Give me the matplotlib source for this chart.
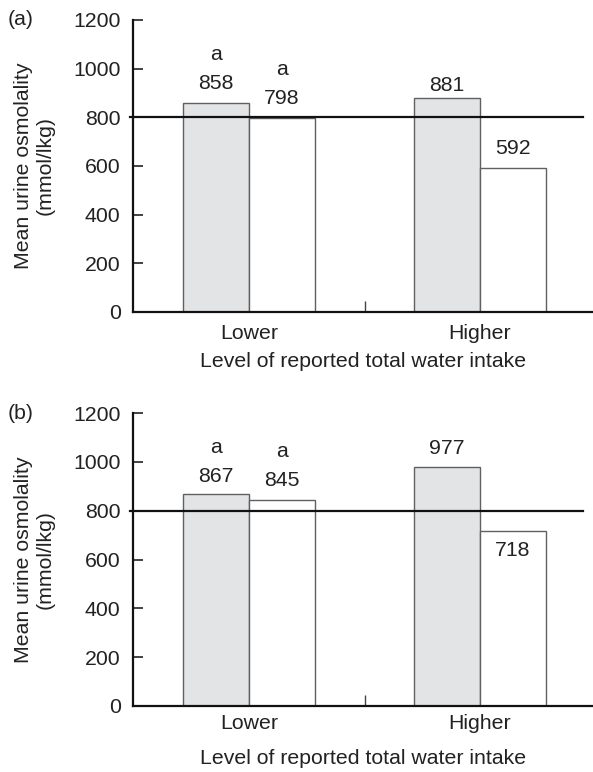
import matplotlib
matplotlib.use('Agg')
import matplotlib.pyplot as plt
import numpy as np

plt.rcParams['font.family'] = ['Liberation Sans', 'DejaVu Sans']

categories = ['Lower', 'Higher']
panel_names = ['(a)', '(b)']
# grey bar / white bar per category
grey_a = [858, 881]
white_a = [798, 592]
grey_b = [867, 977]
white_b = [845, 718]
# significance letters over bars
letters_grey_a = ['a', '']
letters_white_a = ['a', '']
letters_grey_b = ['a', '']
letters_white_b = ['a', '']
ref_level = 800
y_ticks = [0, 200, 400, 600, 800, 1000, 1200]

# label offsets (points) from the bar top
off_grey_a = [14, 9]
off_white_a = [14, 14]
off_grey_b = [13, 14]
off_white_b = [14, -14]

fig = plt.figure(figsize=(5.93, 7.72), dpi=100)
ax_a = fig.add_axes([0.2243, 0.5959, 0.7757, 0.3782])
ax_b = fig.add_axes([0.2243, 0.0855, 0.7757, 0.3795])

# ax, grey, white, letters, letters, offsets, offsets, tick pad, xlabel pad
panels = [
    (ax_a, grey_a, white_a, letters_grey_a, letters_white_a, off_grey_a, off_white_a, 8.5, 7),
    (ax_b, grey_b, white_b, letters_grey_b, letters_white_b, off_grey_b, off_white_b, 6, 11),
]

x = np.arange(len(categories))
w = 0.286
fs = 15.3

for i, (ax, g, wh, lg, lw_, og, ow, tpad, xlpad) in enumerate(panels):
    bg = ax.bar(x - w / 2, g, w, color='#e3e4e6', edgecolor='#606060', linewidth=1.0, zorder=2)
    bw = ax.bar(x + w / 2, wh, w, color='white', edgecolor='#606060', linewidth=1.0, zorder=2)
    for bars, vals, lets, offs in [(bg, g, lg, og), (bw, wh, lw_, ow)]:
        for b, v, l, o in zip(bars, vals, lets, offs):
            cx = b.get_x() + b.get_width() / 2
            ax.annotate(str(v), (cx, v), xytext=(0, o), textcoords='offset points',
                        ha='center', va='center', fontsize=fs, color='#222222')
            if l:
                ax.annotate(l, (cx, v), xytext=(0, o + 21), textcoords='offset points',
                            ha='center', va='center', fontsize=fs, color='#222222')
    ax.axhline(ref_level, xmin=-0.007, xmax=0.979, color='#111111', linewidth=1.6,
               clip_on=False, zorder=3)
    ax.set_xlim(-0.502, 1.489)
    ax.set_ylim(0, 1200)
    ax.set_yticks(y_ticks)
    ax.tick_params(axis='y', direction='in', length=7, width=1.2, pad=9,
                   labelsize=fs, colors='#222222')
    ax.set_xticks(x, categories)
    ax.tick_params(axis='x', length=0, pad=tpad, labelsize=fs, colors='#222222')
    ax.set_xticks([0.5], minor=True)
    ax.tick_params(axis='x', which='minor', direction='in', length=8, width=1.0, color='#444444')
    for s in ['top', 'right']:
        ax.spines[s].set_visible(False)
    for s in ['left', 'bottom']:
        ax.spines[s].set_linewidth(1.6)
        ax.spines[s].set_color('#111111')
    ax.set_ylabel('Mean urine osmolality\n(mmol/lkg)', fontsize=fs, color='#222222',
                  labelpad=13, linespacing=1.2)
    ax.set_xlabel('Level of reported total water intake', fontsize=fs, color='#222222',
                  labelpad=xlpad)
    ax.text(-0.272, 1.0, panel_names[i], transform=ax.transAxes, fontsize=fs,
            ha='left', va='center', color='#222222')

fig.savefig('out.png', dpi=100)
